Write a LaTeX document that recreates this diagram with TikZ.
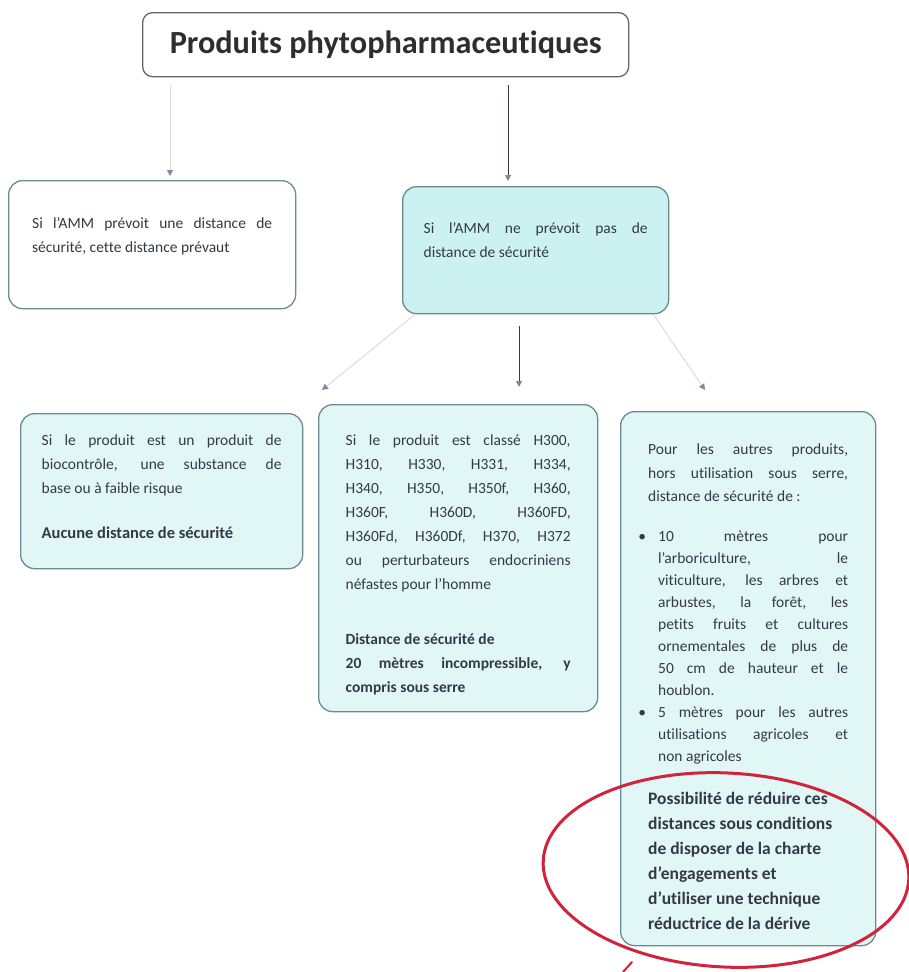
\documentclass[tikz,border=0pt]{standalone}
\usepackage{fontspec}
\setmainfont{Carlito}[Ligatures=NoCommon]
\usetikzlibrary{arrows.meta,positioning}
\definecolor{texte}{HTML}{353946}
\definecolor{bord}{HTML}{6A8A94}
\definecolor{cyanfort}{HTML}{CBF1F1}
\definecolor{cyanpale}{HTML}{E1F7F5}
\definecolor{pointe}{HTML}{7C88A6}
\definecolor{gris}{HTML}{DADCE2}
\definecolor{rouge}{HTML}{D2233C}
\hbadness=10000
\newcommand\contenu[3]{\parbox[t][#2][t]{#1}{\strut #3}}
\newcommand\puce[1]{{\leftskip=10pt\noindent\llap{\textbullet\hspace{12pt}}#1\par}}
\tikzset{
  boite/.style={draw=bord, line width=1.3pt, rounded corners=14pt, anchor=north west,
    text=texte, font=\fontsize{15.5}{24}\selectfont},
  lien/.style={draw=texte, line width=1pt, -{Triangle[width=6pt,length=6pt,color=pointe]}},
  lienpale/.style={lien, draw=gris},
}
\begin{document}
\begin{tikzpicture}[x=1pt,y=-1pt]
  \fill[white] (0,0) rectangle (908,972);
  \useasboundingbox (0,0) rectangle (908,972);
  \coordinate (pA) at (170,176);
  \coordinate (pB) at (508,181);
  \coordinate (pC) at (322,390);
  \coordinate (pD) at (519,387);
  \coordinate (pE) at (705,390);
  \node[boite, draw=gray!80!black, fill=white, rounded corners=10pt, minimum width=486pt,
    minimum height=64pt, text=black!82, font=\bfseries\fontsize{32.3}{38}\selectfont]
    (titre) at (142,12) {Produits phytopharmaceutiques};
  \node[boite, fill=white, inner xsep=23.5pt, inner ysep=31.2pt] (boiteA) at (8,180)
    {\contenu{240pt}{65.6pt}{Si l’AMM prévoit une distance de \linebreak sécurité, cette distance prévaut}};
  \node[boite, fill=cyanfort, inner xsep=21pt, inner ysep=30.2pt] (boiteB) at (402,186)
    {\contenu{224pt}{66.6pt}{Si l’AMM ne prévoit pas de \linebreak distance de sécurité}};
  \node[boite, fill=cyanpale, inner xsep=21pt, inner ysep=15.2pt] (boiteC) at (20,413)
    {\contenu{240pt}{124.6pt}{Si le produit est un produit de \linebreak biocontrôle, une substance de \linebreak
    base ou à faible risque\par\vspace{21pt}{\fontsize{16.5}{24}\selectfont\bfseries Aucune distance de sécurité}}};
  \node[boite, fill=cyanpale, inner xsep=27pt, inner ysep=24.2pt] (boiteD) at (318,404)
    {\contenu{225pt}{258.6pt}{Si le produit est classé H300, \linebreak H310, H330, H331, H334, \linebreak
    H340, H350, H350f, H360, \linebreak H360F, H360D, H360FD, \linebreak H360Fd, H360Df, H370, H372 \linebreak
    ou perturbateurs endocriniens \linebreak néfastes pour l’homme\par\vspace{31pt}%
    \textbf{Distance de sécurité de\\ 20 mètres incompressible, y \linebreak compris sous serre}}};
  \node[boite, fill=cyanpale, inner xsep=27.5pt, inner ysep=26.5pt,
    font=\fontsize{15.5}{23.5}\selectfont] (boiteE) at (620,411)
    {\contenu{200pt}{481pt}{Pour les autres produits, \linebreak hors utilisation sous serre, \linebreak
    distance de sécurité de :\par\vspace{18pt}
    {\fontsize{15.5}{22}\selectfont
    \puce{10 mètres pour \linebreak l’arboriculture, le \linebreak viticulture, les arbres et \linebreak
      arbustes, la forêt, les \linebreak petits fruits et cultures \linebreak ornementales de plus de \linebreak
      50 cm de hauteur et le \linebreak houblon.}
    \puce{5 mètres pour les autres \linebreak utilisations agricoles et \linebreak non agricoles}}
    \vspace{18pt}
    {\fontsize{17.5}{25}\selectfont\bfseries\raggedright Possibilité de réduire ces\\ distances sous conditions\\
    de disposer de la charte\\ d’engagements et\\ d’utiliser une technique\\ réductrice de la dérive\par}}};
  \draw[lienpale, shorten <=8pt] (titre.south -| pA) -- (pA);
  \draw[lien, shorten <=8pt] (titre.south -| pB) -- (pB);
  \draw[lienpale] ([xshift=13pt]boiteB.south west) -- (pC);
  \draw[lien, shorten <=12pt] (boiteB.south -| pD) -- (pD);
  \draw[lienpale] ([xshift=-16pt]boiteB.south east) -- (pE);
  %\draw[rouge] (boiteE.south) circle (2pt);
  \draw[rouge, line width=3pt, rotate around={-3:(726,870)}] (726,870) ellipse [x radius=183pt, y radius=97pt];
  \draw[rouge, line width=2pt, line cap=round] (632,962) -- (623,972);
\end{tikzpicture}
\end{document}
